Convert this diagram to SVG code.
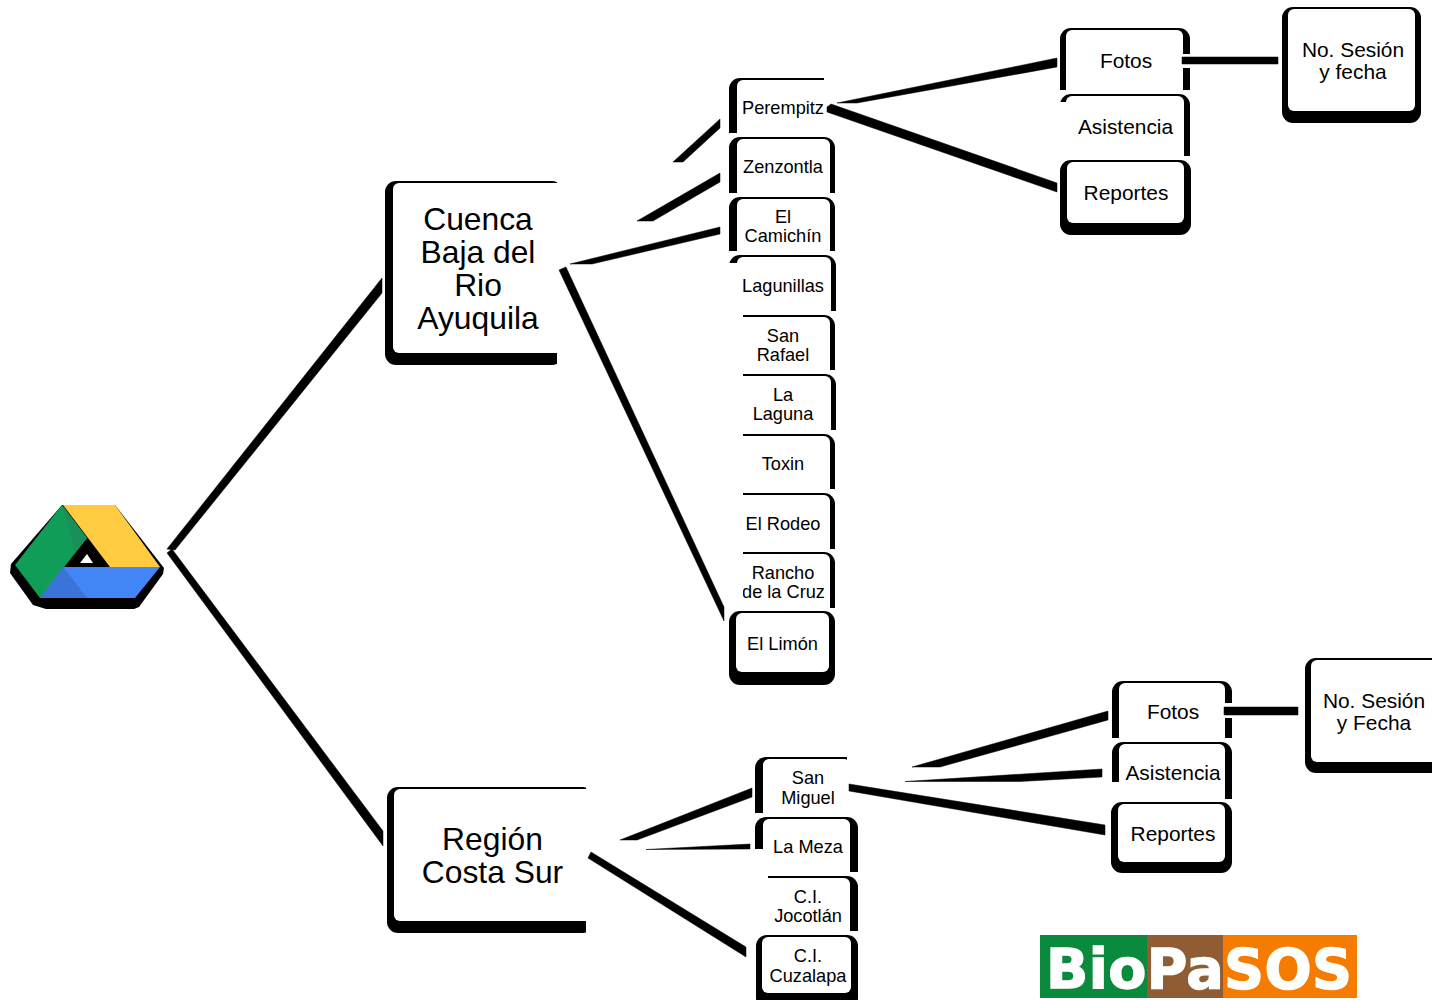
<svg xmlns="http://www.w3.org/2000/svg" width="1432" height="1000" viewBox="0 0 1432 1000">
<style>
.o{fill:#000;rx:11px;ry:11px}
.i{fill:#fff;rx:6px;ry:6px}
.w{fill:#fff}
.c{fill:#000;stroke:#000;stroke-width:.5;stroke-linejoin:round}
text{font-family:"Liberation Sans",Arial,sans-serif;fill:#000;text-anchor:middle}
.l{font-size:31.8px}
.m{font-size:20.9px}
.s{font-size:18.2px}
.logo{font-family:"DejaVu Sans",sans-serif;font-weight:700;font-size:55.5px;fill:#fff;stroke:#fff;stroke-width:1.4px;text-anchor:start;letter-spacing:.4px}
</style>
<defs>
<clipPath id="cCuenca"><rect x="380" y="175" width="177" height="195"/></clipPath>
<clipPath id="cRegion"><rect x="380" y="780" width="206" height="160"/></clipPath>
<clipPath id="cPere"><rect x="725" y="74" width="99" height="59"/></clipPath>
<clipPath id="cZen"><rect x="725" y="134" width="115" height="59"/></clipPath>
<clipPath id="cCam"><rect x="725" y="194" width="115" height="57"/></clipPath>
<clipPath id="cLag"><path d="M725 252H840V311H737V263H725Z"/></clipPath>
<clipPath id="cSan"><rect x="743" y="312" width="97" height="58"/></clipPath>
<clipPath id="cLa"><rect x="743" y="371" width="97" height="59"/></clipPath>
<clipPath id="cTox"><rect x="743" y="431" width="97" height="58"/></clipPath>
<clipPath id="cRod"><rect x="743" y="490" width="97" height="59"/></clipPath>
<clipPath id="cRan"><rect x="743" y="549" width="97" height="59"/></clipPath>
<clipPath id="cMig"><rect x="750" y="753" width="97" height="60"/></clipPath>
<clipPath id="cMez"><path d="M750 814H862V872H763V849H750Z"/></clipPath>
<clipPath id="cJoc"><rect x="768" y="873" width="94" height="58"/></clipPath>
<clipPath id="cF1"><rect x="1056" y="24" width="140" height="66"/></clipPath>
<clipPath id="cA1"><path d="M1056 91H1196V156H1066V102H1056Z"/></clipPath>
<clipPath id="cF2"><rect x="1108" y="677" width="130" height="61"/></clipPath>
<clipPath id="cA2"><path d="M1108 739H1238V799H1119V782H1108Z"/></clipPath>
</defs>

<g id="drive">
<path d="M62 505H115L164 568L163 574L139 607L134 609H46L33 605L10 573L11 564Z" fill="#000"/>
<path d="M63 505H115L160 567H110Z" fill="#ffcb40"/>
<path d="M62 505L87 538L40 598L15 565Z" fill="#0f9d58"/>
<path d="M62 505L87 538L75 553L68 525Z" fill="#1a8f5c"/>
<path d="M63 567H160L135 598H40Z" fill="#4285f4"/>
<path d="M63 567L87 598H40Z" fill="#3b74d8"/>
<path d="M87 554L93 563H80Z" fill="#fff"/>
</g>

<g id="cuenca" clip-path="url(#cCuenca)">
<rect class="o" x="385" y="181" width="178" height="184"/><rect class="i" x="393" y="183" width="170" height="170"/>
<text class="l" x="478" y="230">Cuenca</text><text class="l" x="478" y="263">Baja del</text><text class="l" x="478" y="296">Rio</text><text class="l" x="478" y="329">Ayuquila</text>
</g>
<g id="region" clip-path="url(#cRegion)">
<rect class="o" x="387" y="787" width="207" height="146"/><rect class="i" x="394" y="789" width="199" height="132"/>
<text class="l" x="492.500" y="850">Región</text><text class="l" x="492.500" y="883">Costa Sur</text>
</g>

<g id="perempitz" clip-path="url(#cPere)">
<rect class="o" x="729" y="78" width="106" height="74"/><rect class="i" x="737" y="80" width="93" height="60"/>
<text class="s" x="783" y="114">Perempitz</text>
</g>
<g id="zenzontla" clip-path="url(#cZen)">
<rect class="o" x="729" y="137" width="106" height="74"/><rect class="i" x="737" y="139" width="93" height="60"/>
<text class="s" x="783" y="173">Zenzontla</text>
</g>
<g id="camichin" clip-path="url(#cCam)">
<rect class="o" x="729" y="197" width="106" height="74"/><rect class="i" x="737" y="199" width="93" height="60"/>
<text class="s" x="783" y="223">El</text><text class="s" x="783" y="242">Camichín</text>
</g>
<g id="lagunillas" clip-path="url(#cLag)">
<rect class="o" x="729" y="255" width="107" height="74"/><rect class="i" x="737" y="257" width="94" height="60"/>
<text class="s" x="783" y="292">Lagunillas</text>
</g>
<g id="san-rafael" clip-path="url(#cSan)">
<rect class="o" x="729" y="315" width="106" height="74"/><rect class="i" x="737" y="317" width="93" height="60"/>
<text class="s" x="783" y="342">San</text><text class="s" x="783" y="361">Rafael</text>
</g>
<g id="la-laguna" clip-path="url(#cLa)">
<rect class="o" x="729" y="374" width="107" height="74"/><rect class="i" x="737" y="376" width="94" height="60"/>
<text class="s" x="783" y="401">La</text><text class="s" x="783" y="420">Laguna</text>
</g>
<g id="toxin" clip-path="url(#cTox)">
<rect class="o" x="729" y="434" width="106" height="74"/><rect class="i" x="737" y="436" width="93" height="60"/>
<text class="s" x="783" y="470">Toxin</text>
</g>
<g id="el-rodeo" clip-path="url(#cRod)">
<rect class="o" x="729" y="493" width="106" height="74"/><rect class="i" x="737" y="495" width="93" height="60"/>
<text class="s" x="783" y="530">El Rodeo</text>
</g>
<g id="rancho" clip-path="url(#cRan)">
<rect class="o" x="729" y="552" width="106" height="74"/><rect class="i" x="737" y="554" width="93" height="60"/>
<text class="s" x="783" y="579">Rancho</text><text class="s" x="783.500" y="598">de la Cruz</text>
</g>
<g id="el-limon">
<rect class="o" x="729" y="611" width="106" height="74"/><rect class="i" x="736" y="613" width="93" height="59"/>
<text class="s" x="782.500" y="650">El Limón</text>
</g>

<g id="san-miguel" clip-path="url(#cMig)">
<rect class="o" x="755" y="757" width="103" height="74"/><rect class="i" x="763" y="759" width="87" height="60"/>
<text class="s" x="808" y="784">San</text><text class="s" x="808" y="804">Miguel</text>
</g>
<g id="la-meza" clip-path="url(#cMez)">
<rect class="o" x="755" y="817" width="103" height="74"/><rect class="i" x="763" y="819" width="87" height="60"/>
<text class="s" x="808" y="853">La Meza</text>
</g>
<g id="jocotlan" clip-path="url(#cJoc)">
<rect class="o" x="755" y="876" width="103" height="74"/><rect class="i" x="763" y="878" width="87" height="60"/>
<text class="s" x="808" y="903">C.I.</text><text class="s" x="808" y="922">Jocotlán</text>
</g>
<g id="cuzalapa">
<rect class="o" x="756" y="935" width="102" height="74"/><rect class="i" x="762" y="937" width="89" height="56"/>
<text class="s" x="808" y="962">C.I.</text><text class="s" x="808" y="982">Cuzalapa</text>
</g>

<g id="fotos-1" clip-path="url(#cF1)">
<rect class="o" x="1060" y="28" width="130" height="74"/><rect class="i" x="1066" y="30" width="117" height="66"/>
<text class="m" x="1126" y="68">Fotos</text>
<rect class="w" x="1180" y="54" width="12" height="14"/>
</g>
<g id="asistencia-1" clip-path="url(#cA1)">
<rect class="o" x="1060" y="94" width="130" height="74"/><rect class="i" x="1066" y="96" width="118" height="66"/>
<text class="m" x="1125.500" y="134">Asistencia</text>
</g>
<g id="reportes-1">
<rect class="o" x="1060" y="160" width="131" height="75"/><rect class="i" x="1067" y="162" width="117" height="61"/>
<text class="m" x="1126" y="200">Reportes</text>
</g>
<g id="sesion-1">
<rect class="o" x="1282" y="7" width="139" height="116"/><rect class="i" x="1288" y="9" width="127" height="102"/>
<text class="m" x="1353" y="57">No. Sesión</text><text class="m" x="1353" y="79">y fecha</text>
</g>

<g id="fotos-2" clip-path="url(#cF2)">
<rect class="o" x="1112" y="681" width="120" height="74"/><rect class="i" x="1119" y="683" width="106" height="66"/>
<text class="m" x="1173" y="719">Fotos</text>
<rect class="w" x="1222" y="703" width="12" height="15"/>
</g>
<g id="asistencia-2" clip-path="url(#cA2)">
<rect class="o" x="1112" y="742" width="120" height="74"/><rect class="i" x="1119" y="744" width="106" height="66"/>
<text class="m" x="1173" y="780">Asistencia</text>
</g>
<g id="reportes-2">
<rect class="o" x="1111" y="802" width="121" height="71"/><rect class="i" x="1118" y="804" width="107" height="58"/>
<text class="m" x="1173" y="841">Reportes</text>
</g>
<g id="sesion-2">
<rect class="o" x="1305" y="658" width="160" height="115"/><rect class="i" x="1311" y="660" width="145" height="102"/>
<text class="m" x="1374" y="708">No. Sesión</text><text class="m" x="1374" y="730">y Fecha</text>
</g>

<g id="connectors">
<polygon class="c" points="167,549 382,278 382,293 175,550"/>
<polygon class="c" points="167,553 172,549 383,831 383,846"/>
<polygon class="c" points="673,162 683,162 720,128 720,119"/>
<polygon class="c" points="637,221 653,221 720,182 720,173"/>
<polygon class="c" points="570,264 592,264 720,234 720,227"/>
<polygon class="c" points="559,270 566,267 724,607 724,621"/>
<polygon class="c" points="620,840 637,840 752,797 752,788"/>
<polygon class="c" points="646,849.500 750,849 750,844"/>
<polygon class="c" points="588,858 591,852 746,947 746,957"/>
<polygon class="c" points="837,103 857,103 1057,67 1057,58"/>
<polygon class="c" points="827,107 831,104 1057,183 1057,192 827,112"/>
<polygon class="c" points="912,767 940,767 1108,720 1108,711"/>
<polygon class="c" points="905,781.500 1020,781.500 1102,777 1102,769"/>
<polygon class="c" points="849,784 1105,825 1105,835 849,791"/>
<rect class="c" x="1182" y="57" width="96" height="7"/>
<rect class="c" x="1224" y="707" width="74" height="8"/>
</g>

<g id="biopasos">
<rect x="1040" y="935" width="107" height="63" fill="#0a8a3c"/>
<rect x="1147" y="935" width="76" height="63" fill="#8f5c33"/>
<rect x="1223" y="935" width="134" height="63" fill="#f57c00"/>
<text class="logo" x="1046" y="988">BioPaSOS</text>
</g>
</svg>
